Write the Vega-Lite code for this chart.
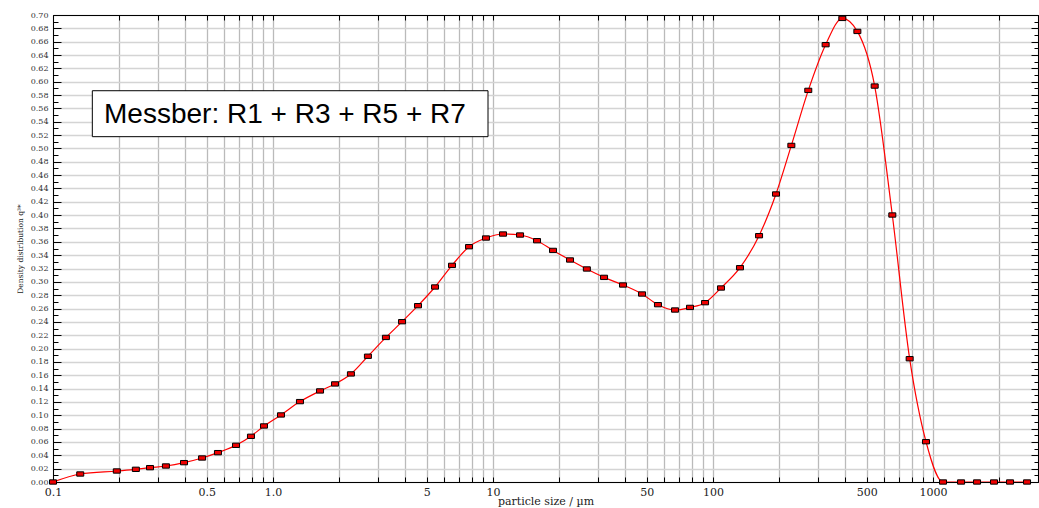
{
  "$schema": "https://vega.github.io/schema/vega-lite/v6.json",
  "width": 985,
  "height": 467,
  "autosize": {"type": "none"},
  "padding": {"left": 53, "top": 15, "right": 1, "bottom": 26},
  "background": "white",
  "config": {
    "view": {"stroke": null},
    "axis": {"labelFont": "DejaVu Serif", "titleFont": "DejaVu Serif", "titleFontWeight": "normal", "labelOverlap": false, "labelFlush": false, "labelBound": false, "tickColor": "black", "domainColor": "black", "domainWidth": 1, "tickWidth": 1}
  },
  "resolve": {"axis": {"x": "independent", "y": "independent"}},
  "layer": [
    {
      "data": {"values": [{"label": "Messber: R1 + R3 + R5 + R7"}]},
      "mark": {"type": "rect", "fill": "white", "stroke": "black", "strokeWidth": 1},
      "encoding": {
        "x": {"datum": 0.1509, "type": "quantitative", "scale": {"type": "log", "domain": [0.1, 3000]}, "axis": null},
        "x2": {"datum": 9.49},
        "y": {"datum": 0.5865, "type": "quantitative", "scale": {"domain": [0, 0.7], "nice": false, "zero": false},
          "axis": {"orient": "left", "values": [0.01,0.03,0.05,0.07,0.09,0.11,0.13,0.15,0.17,0.19,0.21,0.23,0.25,0.27,0.29,0.31,0.33,0.35,0.37,0.39,0.41,0.43,0.45,0.47,0.49,0.51,0.53,0.55,0.57,0.59,0.61,0.63,0.65,0.67,0.69], "tickSize": -5, "labels": false, "grid": false, "domain": false, "title": null}},
        "y2": {"datum": 0.5176}
      }
    },
    {
      "data": {"values": [{"label": "Messber: R1 + R3 + R5 + R7"}]},
      "mark": {"type": "text", "font": "Liberation Sans", "fontSize": 28, "align": "left", "baseline": "alphabetic", "color": "black"},
      "encoding": {
        "x": {"datum": 0.1706, "type": "quantitative", "scale": {"type": "log", "domain": [0.1, 3000]}, "axis": null},
        "y": {"datum": 0.538, "type": "quantitative", "scale": {"domain": [0, 0.7], "nice": false, "zero": false},
          "axis": {"orient": "right", "values": [0.01,0.03,0.05,0.07,0.09,0.11,0.13,0.15,0.17,0.19,0.21,0.23,0.25,0.27,0.29,0.31,0.33,0.35,0.37,0.39,0.41,0.43,0.45,0.47,0.49,0.51,0.53,0.55,0.57,0.59,0.61,0.63,0.65,0.67,0.69], "tickSize": -4, "labels": false, "grid": false, "domain": false, "title": null}},
        "text": {"field": "label"}
      }
    },
    {
      "data": {"name": "psd", "values": [
        {"size": 0.1, "q3": 0},
        {"size": 0.133, "q3": 0.012},
        {"size": 0.195, "q3": 0.0165},
        {"size": 0.238, "q3": 0.019},
        {"size": 0.276, "q3": 0.0215},
        {"size": 0.326, "q3": 0.024},
        {"size": 0.394, "q3": 0.029},
        {"size": 0.476, "q3": 0.036},
        {"size": 0.562, "q3": 0.044},
        {"size": 0.679, "q3": 0.055},
        {"size": 0.794, "q3": 0.0685},
        {"size": 0.91, "q3": 0.084},
        {"size": 1.087, "q3": 0.1005},
        {"size": 1.326, "q3": 0.1205},
        {"size": 1.636, "q3": 0.1365},
        {"size": 1.914, "q3": 0.147},
        {"size": 2.26, "q3": 0.162},
        {"size": 2.7, "q3": 0.1885},
        {"size": 3.26, "q3": 0.2167},
        {"size": 3.86, "q3": 0.2403},
        {"size": 4.56, "q3": 0.2643},
        {"size": 5.45, "q3": 0.2923},
        {"size": 6.51, "q3": 0.3247},
        {"size": 7.78, "q3": 0.3527},
        {"size": 9.29, "q3": 0.3657},
        {"size": 11.1, "q3": 0.3717},
        {"size": 13.27, "q3": 0.3702},
        {"size": 15.85, "q3": 0.3617},
        {"size": 18.74, "q3": 0.3471},
        {"size": 22.39, "q3": 0.3328},
        {"size": 26.7, "q3": 0.3193},
        {"size": 31.96, "q3": 0.3067},
        {"size": 38.99, "q3": 0.2953},
        {"size": 47.57, "q3": 0.2818},
        {"size": 56.2, "q3": 0.2658},
        {"size": 67.2, "q3": 0.2578},
        {"size": 78.6, "q3": 0.2617},
        {"size": 92.0, "q3": 0.2688},
        {"size": 108.7, "q3": 0.2908},
        {"size": 132.6, "q3": 0.3212},
        {"size": 161.9, "q3": 0.3692},
        {"size": 193.3, "q3": 0.4317},
        {"size": 227, "q3": 0.5045},
        {"size": 271, "q3": 0.587},
        {"size": 325, "q3": 0.6555},
        {"size": 387, "q3": 0.6949},
        {"size": 453, "q3": 0.6754},
        {"size": 543, "q3": 0.5935},
        {"size": 653, "q3": 0.4002},
        {"size": 783, "q3": 0.1848},
        {"size": 929, "q3": 0.0604},
        {"size": 1110, "q3": 0},
        {"size": 1341, "q3": 0},
        {"size": 1585, "q3": 0},
        {"size": 1893, "q3": 0},
        {"size": 2239, "q3": 0},
        {"size": 2675, "q3": 0}
      ]},
      "mark": {"type": "line", "interpolate": "monotone", "color": "#ff0000", "strokeWidth": 1.2, "clip": true},
      "encoding": {
        "x": {"field": "size", "type": "quantitative", "scale": {"type": "log", "domain": [0.1, 3000]},
          "axis": {"orient": "bottom", "values": [0.1,0.2,0.3,0.4,0.5,0.6,0.7,0.8,0.9,1,2,3,4,5,6,7,8,9,10,20,30,40,50,60,70,80,90,100,200,300,400,500,600,700,800,900,1000,2000,3000],
            "labelExpr": "datum.value == 1 ? '1.0' : (indexof([0.1, 0.5, 5, 10, 50, 100, 500, 1000], datum.value) >= 0 ? '' + datum.value : '')",
            "grid": true, "gridColor": "#bababa", "gridWidth": 1.3, "tickSize": -5, "labelPadding": 9, "labelFontSize": 11, "labelColor": "#222",
            "domain": true, "title": "particle size / µm", "titleFontSize": 11, "titleColor": "#222", "titlePadding": -2}},
        "y": {"field": "q3", "type": "quantitative", "scale": {"domain": [0, 0.7], "nice": false, "zero": false},
          "axis": {"orient": "left", "values": [0,0.02,0.04,0.06,0.08,0.1,0.12,0.14,0.16,0.18,0.2,0.22,0.24,0.26,0.28,0.3,0.32,0.34,0.36,0.38,0.4,0.42,0.44,0.46,0.48,0.5,0.52,0.54,0.56,0.58,0.6,0.62,0.64,0.66,0.68,0.7],
            "format": ".2f", "grid": true, "gridColor": "#d4d4d4", "gridWidth": 1.5, "tickSize": -8, "labelPadding": 13, "labelFontSize": 8, "labelColor": "#333",
            "domain": true, "title": "Density distribution q³*", "titleFontSize": 7.5, "titleColor": "#222", "titlePadding": 6}}
      }
    },
    {
      "data": {"name": "psd"},
      "mark": {"type": "point", "shape": "M-1,-0.62H1V0.62H-1Z", "size": 49, "filled": true, "fill": "#ee0000", "stroke": "black", "strokeWidth": 1, "opacity": 1},
      "encoding": {
        "x": {"field": "size", "type": "quantitative", "scale": {"type": "log", "domain": [0.1, 3000]},
          "axis": {"orient": "top", "values": [0.1,0.2,0.3,0.4,0.5,0.6,0.7,0.8,0.9,1,2,3,4,5,6,7,8,9,10,20,30,40,50,60,70,80,90,100,200,300,400,500,600,700,800,900,1000,2000,3000],
            "labels": false, "grid": false, "tickSize": -5, "domain": true, "title": null}},
        "y": {"field": "q3", "type": "quantitative", "scale": {"domain": [0, 0.7], "nice": false, "zero": false},
          "axis": {"orient": "right", "values": [0,0.02,0.04,0.06,0.08,0.1,0.12,0.14,0.16,0.18,0.2,0.22,0.24,0.26,0.28,0.3,0.32,0.34,0.36,0.38,0.4,0.42,0.44,0.46,0.48,0.5,0.52,0.54,0.56,0.58,0.6,0.62,0.64,0.66,0.68,0.7],
            "labels": false, "grid": false, "tickSize": -7, "domain": true, "title": null}}
      }
    }
  ]
}
